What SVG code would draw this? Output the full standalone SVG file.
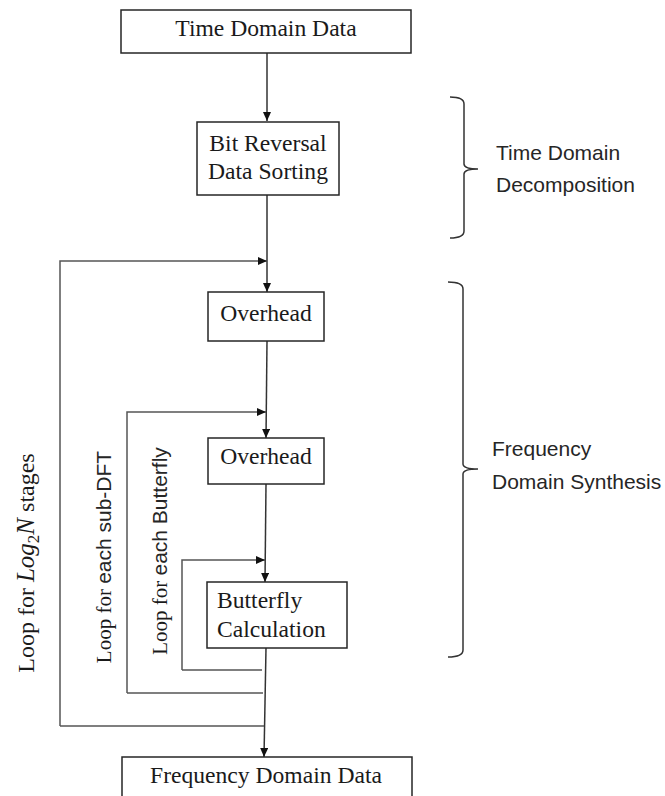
<svg xmlns="http://www.w3.org/2000/svg" width="665" height="796" viewBox="0 0 665 796">
<style>
.box{fill:#fff;stroke:#262626;stroke-width:1.5}
.serif{font-family:"Liberation Serif","Times New Roman",serif;font-size:23.6px;fill:#1a1a1a}
.sans{font-family:"Liberation Sans",Arial,sans-serif;font-size:21px;fill:#262626}
.rot{font-family:"Liberation Serif","Times New Roman",serif;font-size:21px;fill:#1a1a1a}
.rot-big{font-family:"Liberation Serif","Times New Roman",serif;font-size:24px;fill:#1a1a1a}
.conn{fill:none;stroke:#333;stroke-width:1.5}
.loop{fill:none;stroke:#555;stroke-width:1.5}
.brace{fill:none;stroke:#333;stroke-width:1.5}
</style>
<defs>
<marker id="arr" markerUnits="userSpaceOnUse" markerWidth="10" markerHeight="10" refX="9" refY="4" orient="auto">
<path d="M0,0 L9,4 L0,8 Z" fill="#111"/>
</marker>
</defs>

<g id="connectors">
<line class="conn" x1="267" y1="53" x2="267" y2="121" marker-end="url(#arr)"/>
<line class="conn" x1="267" y1="195" x2="267" y2="292" marker-end="url(#arr)"/>
<polyline class="loop" points="60,726 60,261 267,261" marker-end="url(#arr)"/>
<line class="conn" x1="267" y1="341" x2="266" y2="438" marker-end="url(#arr)"/>
<polyline class="loop" points="127,693 127,412 266,412" marker-end="url(#arr)"/>
<line class="conn" x1="266" y1="484" x2="265" y2="582" marker-end="url(#arr)"/>
<polyline class="loop" points="182,670 182,560 265,560" marker-end="url(#arr)"/>
<line class="conn" x1="266" y1="648" x2="264" y2="757" marker-end="url(#arr)"/>
<polyline class="loop" points="182,670 262,670"/>
<polyline class="loop" points="127,693 263,693"/>
<polyline class="loop" points="60,726 264,726"/>
</g>

<g id="time-domain-data">
<rect class="box" x="121" y="10" width="290" height="43"/>
<text class="serif" x="266" y="36" text-anchor="middle">Time Domain Data</text>
</g>

<g id="bit-reversal">
<rect class="box" x="197" y="122" width="142" height="73"/>
<text class="serif" x="268" y="151" text-anchor="middle">Bit Reversal</text>
<text class="serif" x="268" y="179" text-anchor="middle">Data Sorting</text>
</g>

<g id="overhead-1">
<rect class="box" x="208" y="292" width="116" height="49"/>
<text class="serif" x="266" y="321" text-anchor="middle">Overhead</text>
</g>

<g id="overhead-2">
<rect class="box" x="208" y="438" width="116" height="46"/>
<text class="serif" x="266" y="464" text-anchor="middle">Overhead</text>
</g>

<g id="butterfly">
<rect class="box" x="207" y="582" width="140" height="66"/>
<text class="serif" x="217" y="608">Butterfly</text>
<text class="serif" x="217" y="637">Calculation</text>
</g>

<g id="frequency-domain-data">
<rect class="box" x="122" y="757" width="290" height="50"/>
<text class="serif" x="266" y="783" text-anchor="middle">Frequency Domain Data</text>
</g>

<g id="time-domain-decomposition">
<path class="brace" d="M450,97 Q464,97 464,104 L464,164 Q464,169 478,169 Q464,169 464,174 L464,231 Q464,238 450,238"/>
<text class="sans" x="496" y="160">Time Domain</text>
<text class="sans" x="496" y="192">Decomposition</text>
</g>

<g id="frequency-domain-synthesis">
<path class="brace" d="M448,282 Q463,282 463,289 L463,464 Q463,469 478,469 Q463,469 463,474 L463,650 Q463,657 448,657"/>
<text class="sans" x="492" y="456">Frequency</text>
<text class="sans" x="492" y="489">Domain Synthesis</text>
</g>

<g id="loop-labels">
<text class="rot-big" transform="translate(34,563) rotate(-90)" text-anchor="middle">Loop for <tspan font-style="italic" font-size="25">Log</tspan><tspan font-size="17" dy="5">2</tspan><tspan font-style="italic" font-size="25" dy="-5">N</tspan> stages</text>
<text class="rot" transform="translate(111,557) rotate(-90)" text-anchor="middle">Loop for <tspan font-family="Liberation Sans, Arial, sans-serif" fill="#262626">each sub-DFT</tspan></text>
<text class="rot" transform="translate(167,551) rotate(-90)" text-anchor="middle">Loop for <tspan font-family="Liberation Sans, Arial, sans-serif" fill="#262626">each Butterfly</tspan></text>
</g>
</svg>
